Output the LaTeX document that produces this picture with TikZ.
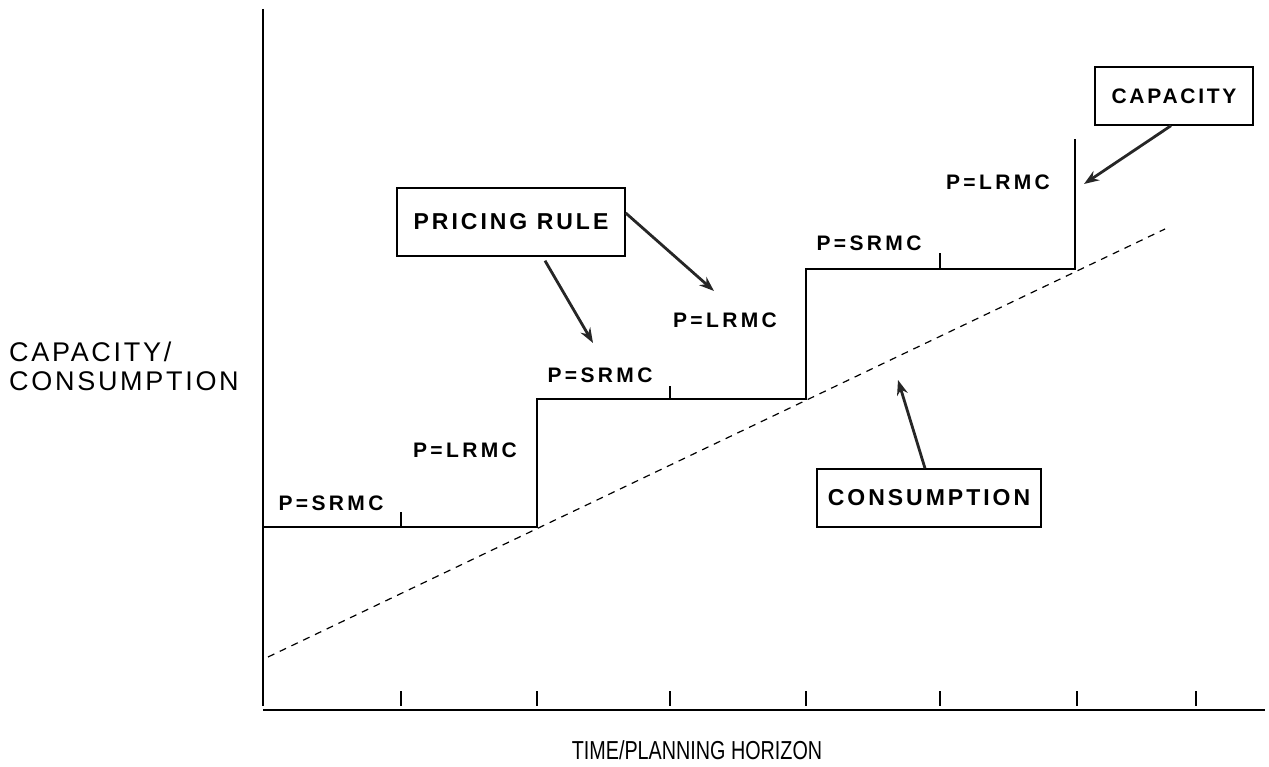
\documentclass[tikz,border=0pt]{standalone}
\usepackage{fontspec}
\usepackage{graphicx}
\setmainfont{Liberation Sans}
\newfontfamily\lblfont[LetterSpace=16]{Liberation Sans Bold}
\newfontfamily\boxfont[LetterSpace=13]{Liberation Sans Bold}
\newfontfamily\axfont[LetterSpace=10]{Liberation Sans}
\usetikzlibrary{arrows.meta}
\begin{document}
\begin{tikzpicture}[x=1pt,y=-1pt,
  axis/.style={line width=1.3pt},
  stepline/.style={line width=1.6pt},
  tickmark/.style={line width=1.1pt},
  plabel/.style={font=\lblfont\fontsize{21}{25}\selectfont, inner sep=0pt},
  callout/.style={draw, line width=1.4pt, font=\boxfont\fontsize{23}{27}\selectfont, inner sep=0pt},
  pointer/.style={line width=2.8pt, draw=black!85, -{Stealth[length=15pt,width=11pt,fill=black!60]}},
  axlabel/.style={font=\axfont\fontsize{27}{32}\selectfont, inner sep=0pt}
]
\useasboundingbox (0,0) rectangle (1269,767);
% axes
\coordinate (O) at (263,710);
\coordinate (ytop) at (263,9);
\coordinate (xend) at (1265,710);
\draw[axis] (ytop) -- (263,706);
\draw[axis] (O) -- (xend);
\foreach \x in {401,537,670,806,940,1077,1196}
  \draw[tickmark] (\x,691) -- (\x,706);
% capacity steps
\coordinate (s0) at (263,527);
\coordinate (s1) at (537,527);
\coordinate (s2) at (537,399);
\coordinate (s3) at (806,399);
\coordinate (s4) at (806,269);
\coordinate (s5) at (1075,269);
\coordinate (s6) at (1075,139);
\draw[stepline] (s0) -- (s1) -- (s2) -- (s3) -- (s4) -- (s5) -- (s6);
\draw[tickmark] (401,527) -- (401,512);
\draw[tickmark] (670,399) -- (670,386);
\draw[tickmark] (940,269) -- (940,253);
% consumption line
\coordinate (c0) at (268,657);
\coordinate (c1) at (1165,229);
\draw[line width=1.2pt, dash pattern=on 7pt off 6pt] (c0) -- (c1);
% price labels
\node[plabel] (l1) at (331,503) {P=SRMC};
\node[plabel] (l2) at (465,450) {P=LRMC};
\node[plabel] (l3) at (600,375) {P=SRMC};
\node[plabel] (l4) at (725,320) {P=LRMC};
\node[plabel] (l5) at (869,243) {P=SRMC};
\node[plabel] (l6) at (998,182) {P=LRMC};
% callouts
\node[callout, minimum width=228pt, minimum height=68pt] (pr) at (511,222) {PRICING RULE};
\node[callout, minimum width=158pt, minimum height=58pt, font=\boxfont\fontsize{21}{25}\selectfont] (cap) at (1174,96) {CAPACITY};
\node[callout, minimum width=224pt, minimum height=58pt] (con) at (929,498) {CONSUMPTION};
\coordinate (a1) at (593,343);
\coordinate (a2) at (714,291);
\coordinate (a3) at (1084,184);
\coordinate (a4) at (898,380);
\draw[pointer] ([xshift=34pt,yshift=-4pt]pr.south) -- (a1);
\draw[pointer] ([yshift=9pt]pr.east) -- (a2);
\draw[pointer] ([xshift=-3pt]cap.south) -- (a3);
\draw[pointer] ([xshift=-4pt]con.north) -- (a4);
% axis labels
\node[axlabel, anchor=west] (yl1) at (9,352) {CAPACITY/};
\node[axlabel, anchor=west] (yl2) at (9,381) {CONSUMPTION};
\node[inner sep=0pt] (xl) at (697,750) {\scalebox{0.76}[1]{\fontsize{26}{30}\selectfont TIME/PLANNING HORIZON}};
\end{tikzpicture}
\end{document}
